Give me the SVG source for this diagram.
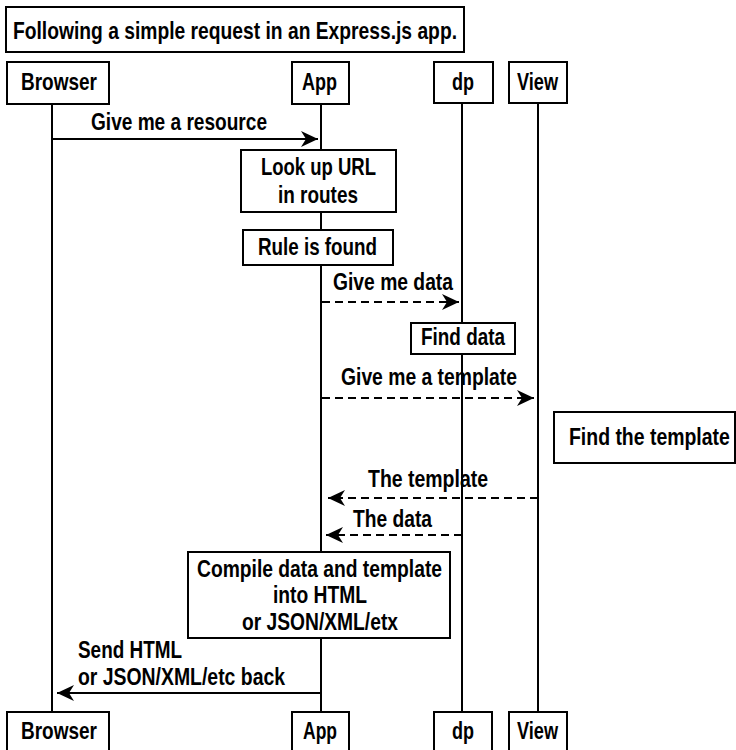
<svg xmlns="http://www.w3.org/2000/svg" width="736" height="750" viewBox="0 0 736 750">
<style>
.box{fill:#fff;stroke:#000;stroke-width:2}
.t{font-family:"Liberation Sans",Arial,sans-serif;font-weight:bold;font-size:24px;fill:#000}
.life{stroke:#000;stroke-width:2;fill:none}
.msg{stroke:#000;stroke-width:2;fill:none}
.dash{stroke-dasharray:8 5}
</style>
<defs>
<marker id="ah" viewBox="-18 -9 19 18" refX="0" refY="0" markerWidth="19" markerHeight="18" markerUnits="userSpaceOnUse" orient="auto">
<path d="M0,0 L-17,-8 L-12,0 L-17,8 Z" fill="#000"/>
</marker>
</defs>
<rect width="736" height="750" fill="#fff"/>
<g id="title">
<rect class="box" x="6" y="7" width="458" height="45"/>
<text class="t" x="13" y="39" textLength="444" lengthAdjust="spacingAndGlyphs">Following a simple request in an Express.js app.</text>
</g>
<g id="lifelines">
<line class="life" x1="52" y1="104" x2="52" y2="712"/>
<line class="life" x1="321" y1="104" x2="321" y2="712"/>
<line class="life" x1="462" y1="103" x2="462" y2="712"/>
<line class="life" x1="538" y1="103" x2="538" y2="712"/>
</g>
<g id="connectors">
<line class="msg" x1="52" y1="139" x2="318" y2="139" marker-end="url(#ah)"/>
<line class="msg dash" x1="322" y1="302" x2="459" y2="302" marker-end="url(#ah)"/>
<line class="msg dash" x1="322" y1="398" x2="534" y2="398" marker-end="url(#ah)"/>
<line class="msg dash" x1="538" y1="498" x2="328" y2="498" marker-end="url(#ah)"/>
<line class="msg dash" x1="462" y1="535" x2="326" y2="535" marker-end="url(#ah)"/>
<line class="msg" x1="321" y1="693" x2="57" y2="693" marker-end="url(#ah)"/>
<text class="t" x="91" y="130" textLength="176" lengthAdjust="spacingAndGlyphs">Give me a resource</text>
<text class="t" x="333" y="290" textLength="120" lengthAdjust="spacingAndGlyphs">Give me data</text>
<text class="t" x="341" y="385" textLength="176" lengthAdjust="spacingAndGlyphs">Give me a template</text>
<text class="t" x="368" y="487" textLength="120" lengthAdjust="spacingAndGlyphs">The template</text>
<text class="t" x="353" y="527" textLength="79" lengthAdjust="spacingAndGlyphs">The data</text>
<text class="t" x="78" y="658" textLength="104" lengthAdjust="spacingAndGlyphs">Send HTML</text>
<text class="t" x="78" y="685" textLength="207" lengthAdjust="spacingAndGlyphs">or JSON/XML/etc back</text>
</g>
<g id="browser-top">
<rect class="box" x="7" y="62" width="102" height="42"/>
<text class="t" x="21" y="90" textLength="76" lengthAdjust="spacingAndGlyphs">Browser</text>
</g>
<g id="app-top">
<rect class="box" x="292" y="62" width="57" height="42"/>
<text class="t" x="302" y="90" textLength="35" lengthAdjust="spacingAndGlyphs">App</text>
</g>
<g id="dp-top">
<rect class="box" x="434" y="62" width="59" height="41"/>
<text class="t" x="452" y="90" textLength="22" lengthAdjust="spacingAndGlyphs">dp</text>
</g>
<g id="view-top">
<rect class="box" x="509" y="62" width="58" height="41"/>
<text class="t" x="517" y="90" textLength="41" lengthAdjust="spacingAndGlyphs">View</text>
</g>
<g id="lookup">
<rect class="box" x="241" y="150" width="155" height="62"/>
<text class="t" x="261" y="175" textLength="115" lengthAdjust="spacingAndGlyphs">Look up URL</text>
<text class="t" x="278" y="203" textLength="80" lengthAdjust="spacingAndGlyphs">in routes</text>
</g>
<g id="rule-found">
<rect class="box" x="243" y="230" width="150" height="35"/>
<text class="t" x="258" y="255" textLength="119" lengthAdjust="spacingAndGlyphs">Rule is found</text>
</g>
<g id="find-data">
<rect class="box" x="411" y="323" width="104" height="31"/>
<text class="t" x="421" y="345" textLength="84" lengthAdjust="spacingAndGlyphs">Find data</text>
</g>
<g id="find-template">
<rect class="box" x="554" y="412" width="181" height="51"/>
<text class="t" transform="translate(569 445) scale(0.81 1)">Find the template</text>
</g>
<g id="compile">
<rect class="box" x="188" y="552" width="262" height="86"/>
<text class="t" x="197" y="577" textLength="245" lengthAdjust="spacingAndGlyphs">Compile data and template</text>
<text class="t" x="273" y="603" textLength="94" lengthAdjust="spacingAndGlyphs">into HTML</text>
<text class="t" x="242" y="630" textLength="156" lengthAdjust="spacingAndGlyphs">or JSON/XML/etx</text>
</g>
<g id="browser-bottom">
<rect class="box" x="7" y="712" width="102" height="40"/>
<text class="t" x="21" y="739" textLength="76" lengthAdjust="spacingAndGlyphs">Browser</text>
</g>
<g id="app-bottom">
<rect class="box" x="292" y="712" width="57" height="40"/>
<text class="t" x="303" y="739" textLength="34" lengthAdjust="spacingAndGlyphs">App</text>
</g>
<g id="dp-bottom">
<rect class="box" x="434" y="712" width="58" height="40"/>
<text class="t" x="452" y="739" textLength="22" lengthAdjust="spacingAndGlyphs">dp</text>
</g>
<g id="view-bottom">
<rect class="box" x="509" y="712" width="58" height="40"/>
<text class="t" x="517" y="739" textLength="41" lengthAdjust="spacingAndGlyphs">View</text>
</g>
</svg>
